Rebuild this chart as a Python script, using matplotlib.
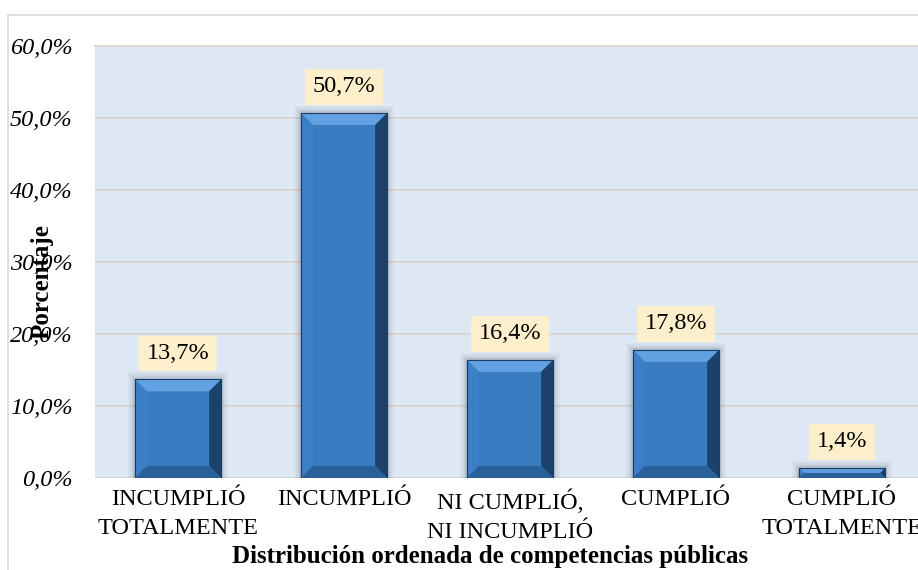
import matplotlib
matplotlib.use("Agg")
import matplotlib.pyplot as plt
from matplotlib.patches import Polygon, Rectangle

categories = ["INCUMPLIÓ\nTOTALMENTE", "INCUMPLIÓ", "NI CUMPLIÓ,\nNI INCUMPLIÓ",
              "CUMPLIÓ", "CUMPLIÓ\nTOTALMENTE"]
porcentajes = [13.7, 50.7, 16.4, 17.8, 1.4]
yticks = [0, 10, 20, 30, 40, 50, 60]

plt.rcParams["font.family"] = ["Liberation Serif", "DejaVu Serif"]

W, H = 918, 570
fig = plt.figure(figsize=(W / 100, H / 100), dpi=100)
ax = fig.add_axes([95 / W, 92 / H, (925 - 95) / W, (478 - 46) / H])
ax.set_facecolor("#dde8f4")

# marco exterior del grafico
fig.patches.append(Rectangle((8 / W, -0.1), 2, (570 - 15) / H + 0.1,
                             transform=fig.transFigure, fill=False,
                             ec="#d9d9d9", lw=1.2, zorder=0))

x = list(range(len(categories)))
ax.set_xlim(-0.5, len(categories) - 0.5)
ax.set_ylim(0, 60)

bars = ax.bar(x, porcentajes, width=0.52, color="#3a7cc1", zorder=3,
              edgecolor="#1f4a78", linewidth=0.6)

ax.set_yticks(yticks)
ax.set_yticklabels([f"{v:.1f}%".replace(".", ",") for v in yticks],
                   fontsize=17.5, style="italic")
ax.set_xticks(x)
ax.set_xticklabels(categories, fontsize=17.5, linespacing=1.5)
ax.tick_params(axis="y", length=0, pad=16)
ax.tick_params(axis="x", length=0, pad=8)
ax.grid(axis="y", color="#d8d4d0", lw=1.3, zorder=1)
ax.set_axisbelow(True)
for s in ["left", "right", "bottom"]:
    ax.spines[s].set_visible(False)
ax.spines["top"].set_color("#d8d4d0")
ax.spines["top"].set_linewidth(1.3)

# bisel de cada barra (en pixeles convertidos a datos)
fig.canvas.draw()
p0 = ax.transData.transform((0, 0))
p1 = ax.transData.transform((1, 1))
px_x = p1[0] - p0[0]
px_y = p1[1] - p0[1]
for b in bars:
    bx, by, bw, bh = b.get_x(), b.get_y(), b.get_width(), b.get_height()
    bev_px = min(12, bh * px_y / 2, bw * px_x / 2)
    dx = bev_px / px_x
    dy = bev_px / px_y
    x0, x1, y0, y1 = bx, bx + bw, by, by + bh
    # sombra suave
    for k, a in zip([7, 5, 3, 1.5], [0.04, 0.05, 0.06, 0.08]):
        ax.add_patch(Rectangle((x0 - k / px_x, y0), bw + 2 * k / px_x, bh + k / px_y,
                               fc="#2a3440", ec="none", alpha=a, zorder=2))
    caras = [
        ([(x0, y1), (x1, y1), (x1 - dx, y1 - dy), (x0 + dx, y1 - dy)], "#62a0e2"),
        ([(x0, y0), (x0 + dx, y0 + dy), (x0 + dx, y1 - dy), (x0, y1)], "#3b7fc6"),
        ([(x1, y0), (x1, y1), (x1 - dx, y1 - dy), (x1 - dx, y0 + dy)], "#1c426c"),
        ([(x0, y0), (x1, y0), (x1 - dx, y0 + dy), (x0 + dx, y0 + dy)], "#2a609a"),
    ]
    for pts, c in caras:
        ax.add_patch(Polygon(pts, closed=True, fc=c, ec="none", zorder=4))
    ax.add_patch(Rectangle((x0, y0), bw, bh, fill=False, ec="#1b3d63", lw=0.8, zorder=5))

for xi, v in zip(x, porcentajes):
    ax.annotate(f"{v:.1f}%".replace(".", ","), (xi, v), xytext=(0, 26),
                textcoords="offset pixels", ha="center", va="center",
                fontsize=17.5, zorder=6,
                bbox=dict(boxstyle="square,pad=0.3", fc="#fdefcb", ec="none"))

fig.text(42 / W, 1 - 282 / H, "Porcentaje", rotation=90, ha="center",
         va="center", fontsize=18, fontweight="bold")
fig.text(490 / W, 1 - 557 / H, "Distribución ordenada de competencias públicas",
         ha="center", va="center", fontsize=18, fontweight="bold")

fig.savefig("out.png", dpi=100, facecolor="white")
